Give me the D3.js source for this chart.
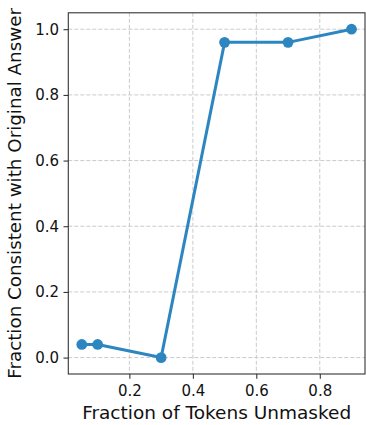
<!DOCTYPE html>
<html><head><meta charset="utf-8">
<script src="https://cdn.jsdelivr.net/npm/d3@7"></script>
<style>body{margin:0;background:#fff}svg{display:block}text{font-family:"DejaVu Sans",sans-serif}</style>
</head><body><svg id="c" width="366" height="425"></svg>
<script>
const fractions = [0.05, 0.1, 0.3, 0.5, 0.7, 0.9];
const consistency = [0.04, 0.04, 0.0, 0.96, 0.96, 1.0];
const xTicks = [0.2, 0.4, 0.6, 0.8];
const yTicks = [0.0, 0.2, 0.4, 0.6, 0.8, 1.0];
const xLabel = "Fraction of Tokens Unmasked";
const yLabel = "Fraction Consistent with Original Answer";

const svg = d3.select("#c");
const L = 68.3, R = 365, T = 12.8, B = 374;
const x = d3.scaleLinear().domain([0.0075, 0.9425]).range([L, R]);
const y = d3.scaleLinear().domain([-0.05, 1.05]).range([B, T]);
const color = "#2E86C1";

// grid
const g = svg.append("g");
g.selectAll(".gx").data(xTicks).join("line")
  .attr("x1", d => x(d)).attr("x2", d => x(d)).attr("y1", T).attr("y2", B)
  .attr("stroke", "#c4c4c4").attr("stroke-width", 0.9).attr("stroke-dasharray", "4,2");
g.selectAll(".gy").data(yTicks).join("line")
  .attr("y1", d => y(d)).attr("y2", d => y(d)).attr("x1", L).attr("x2", R)
  .attr("stroke", "#c4c4c4").attr("stroke-width", 0.9).attr("stroke-dasharray", "4,2");

// axes
const xa = svg.append("g").attr("transform", `translate(0,${B})`)
  .call(d3.axisBottom(x).tickValues(xTicks).tickFormat(d3.format(".1f")).tickSize(4.8).tickPadding(6.5));
const ya = svg.append("g").attr("transform", `translate(${L},0)`)
  .call(d3.axisLeft(y).tickValues(yTicks).tickFormat(d3.format(".1f")).tickSize(4.8).tickPadding(4.5));
[xa, ya].forEach(a => {
  a.select(".domain").remove();
  a.selectAll("line").attr("stroke", "#222").attr("stroke-width", 1);
  a.selectAll("text").attr("font-size", 15).attr("fill", "#111").attr("font-family", "DejaVu Sans");
});

// frame
svg.append("rect").attr("x", L).attr("y", T).attr("width", R - L).attr("height", B - T)
  .attr("fill", "none").attr("stroke", "#333").attr("stroke-width", 1.1);

// line
const pts = fractions.map((f, i) => [f, consistency[i]]);
svg.append("path").datum(pts)
  .attr("d", d3.line().x(d => x(d[0])).y(d => y(d[1])))
  .attr("fill", "none").attr("stroke", color).attr("stroke-width", 3).attr("stroke-linejoin", "round");
svg.selectAll(".pt").data(pts).join("circle")
  .attr("cx", d => x(d[0])).attr("cy", d => y(d[1])).attr("r", 5.4).attr("fill", color);

// labels
svg.append("text").attr("x", (L + R) / 2).attr("y", 419).attr("text-anchor", "middle")
  .attr("font-size", 18.5).attr("fill", "#111").text(xLabel);
svg.append("text").attr("transform", `translate(21,${(T + B) / 2}) rotate(-90)`).attr("text-anchor", "middle")
  .attr("font-size", 18.3).attr("fill", "#111").text(yLabel);
</script></body></html>
